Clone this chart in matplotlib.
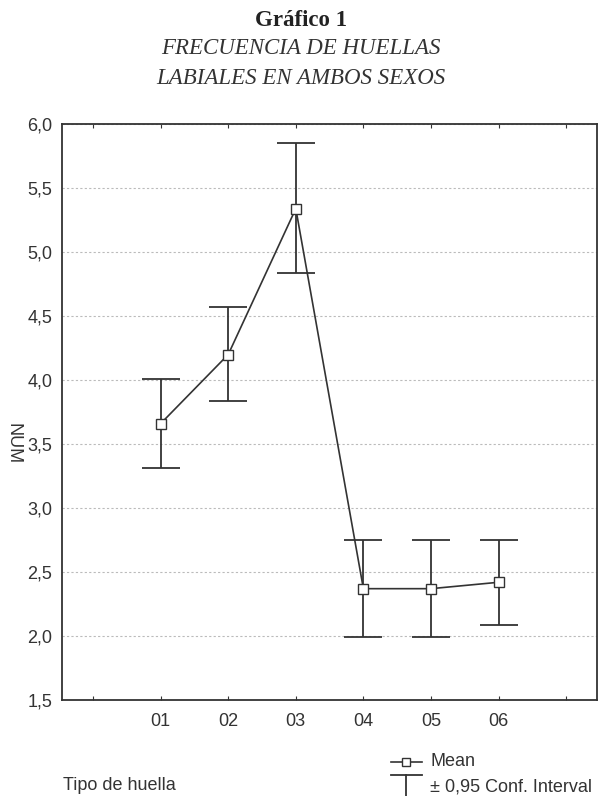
import matplotlib.pyplot as plt
from matplotlib.lines import Line2D

# data
tipos = ['01', '02', '03', '04', '05', '06']
posiciones = [1, 2, 3, 4, 5, 6]
media = [3.66, 4.20, 5.34, 2.37, 2.37, 2.42]
ic_bajo = [3.31, 3.84, 4.84, 1.99, 1.99, 2.09]
ic_alto = [4.01, 4.57, 5.85, 2.75, 2.75, 2.75]

color = '#333333'
W, H = 602, 796

fig = plt.figure(figsize=(W / 100, H / 100), dpi=100)
ax = fig.add_axes([0.103, 0.1206, 0.889, 0.7234])

# error bars for the 0.95 confidence interval
err_lo = [m - lo for m, lo in zip(media, ic_bajo)]
err_hi = [hi - m for m, hi in zip(media, ic_alto)]
ax.errorbar(posiciones, media, yerr=[err_lo, err_hi], fmt='none',
            ecolor=color, elinewidth=1.3, capsize=13.5, capthick=1.3, zorder=2)

# mean line with open squares
ax.plot(posiciones, media, color=color, linewidth=1.2, marker='s',
        markersize=7, markerfacecolor='white', markeredgecolor=color,
        markeredgewidth=1.0, zorder=3)

ax.set_xlim(-0.46, 7.46)
ax.set_ylim(1.5, 6.0)
ax.set_xticks(range(0, 8))
ax.set_xticklabels([''] + tipos + [''], fontsize=13, family='Liberation Sans', color='#333333')
yt = [1.5 + 0.5 * i for i in range(10)]
ax.set_yticks(yt)
ax.set_yticklabels([f'{v:.1f}'.replace('.', ',') for v in yt], fontsize=13,
                   family='Liberation Sans', color='#333333')
ax.tick_params(axis='x', direction='in', length=3, top=True, pad=9, color=color)
ax.tick_params(axis='y', length=0, pad=7)
ax.yaxis.grid(True, linestyle=(0, (2, 2)), color='#bbbbbb', linewidth=0.8)
for s in ax.spines.values():
    s.set_color(color)
    s.set_linewidth(1.3)

fig.text(0.022, 1 - 444 / H, 'NUM', rotation=270, fontsize=13, family='Liberation Sans',
         color='#333333', ha='center', va='center')

# titles
fig.text(0.5, 1 - 21 / H, 'Gráfico 1', fontsize=16.5, fontweight='bold', family='Liberation Serif',
         ha='center', va='center', color='#222222')
fig.text(0.5, 1 - 49 / H, 'FRECUENCIA DE HUELLAS', fontsize=16.5, style='italic',
         family='Liberation Serif', ha='center', va='center', color='#333333')
fig.text(0.5, 1 - 79 / H, 'LABIALES EN AMBOS SEXOS', fontsize=16.5, style='italic',
         family='Liberation Serif', ha='center', va='center', color='#333333')

fig.text(63 / W, 1 - 785 / H, 'Tipo de huella', fontsize=13, family='Liberation Sans',
         color='#333333', ha='left', va='center')

# legend drawn by hand: mean symbol and CI bracket
def px(x, y):
    return x / W, 1 - y / H

x0, x1, xm = 391, 422, 406
y_mean = 762
mx, my = zip(px(x0, y_mean), px(x1, y_mean))
fig.add_artist(Line2D(mx, my, color=color, linewidth=1.2))
fig.add_artist(Line2D([xm / W], [1 - y_mean / H], marker='s', markersize=6,
                      markerfacecolor='white', markeredgecolor=color, color=color))
fig.text(431 / W, 1 - y_mean / H, 'Mean', fontsize=13, family='Liberation Sans',
         color='#333333', ha='left', va='center')

y_top, y_bot = 775, 797
fig.add_artist(Line2D([x0 / W, x1 / W], [1 - y_top / H] * 2, color=color, linewidth=1.3))
fig.add_artist(Line2D([x0 / W, x1 / W], [1 - y_bot / H] * 2, color=color, linewidth=1.3))
fig.add_artist(Line2D([xm / W] * 2, [1 - y_top / H, 1 - y_bot / H], color=color, linewidth=1.3))
fig.text(430 / W, 1 - 787 / H, '± 0,95 Conf. Interval', fontsize=13, family='Liberation Sans',
         color='#333333', ha='left', va='center')

fig.savefig('out.png', dpi=100)
